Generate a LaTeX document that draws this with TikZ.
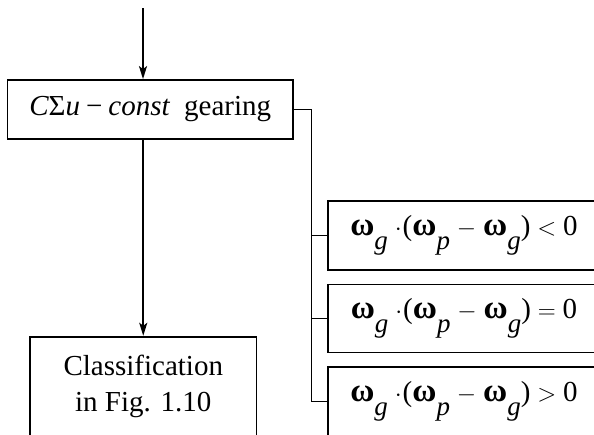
\documentclass[tikz,border=0pt]{standalone}
\usepackage{fontspec}
\setmainfont{Liberation Serif}
\usetikzlibrary{arrows.meta}
\newcommand{\om}[1]{{\fontsize{33}{33}\selectfont\textbf{ω}}\raisebox{-0.5em}{\fontsize{27}{27}\selectfont\itshape #1}}
\begin{document}
\begin{tikzpicture}[x=1pt,y=-1pt,
  every node/.style={font=\fontsize{29}{36}\selectfont},
  box/.style={draw,line width=1.8pt,inner sep=0pt,anchor=center},
  line/.style={line width=1.8pt},
  arr/.style={line width=1.8pt,-{Stealth[length=13pt,width=8pt,inset=3pt]}}]
\useasboundingbox (0,0) rectangle (594,434);
\clip (0,0) rectangle (594,434);
\coordinate (top) at (143,8);
\node[box,minimum width=285.5pt,minimum height=59pt] (gear) at (150.25,109.5)
  {{\itshape C}Σ{\itshape u}\kern6pt−\kern6pt{\itshape const}\enspace gearing};
\node[box,align=center,minimum width=226.5pt,minimum height=99.6pt] (class) at (143.25,386.5)
  {Classification\\in Fig. 1.10};
\node[box,minimum width=272pt,minimum height=69pt] (f1) at (464,235.5)
  {\om{g}$\;\cdot$\kern1pt(\om{p}$\;-\;$\om{g})$\;<\;$0};
\node[box,minimum width=272pt,minimum height=68pt] (f2) at (464,318.5)
  {\om{g}$\;\cdot$\kern1pt(\om{p}$\;-\;$\om{g})$\;=\;$0};
\node[box,minimum width=272pt,minimum height=69pt] (f3) at (464,401.5)
  {\om{g}$\;\cdot$\kern1pt(\om{p}$\;-\;$\om{g})$\;>\;$0};
\draw[arr] (top) -- (top |- gear.north);
\draw[arr] (class.north |- gear.south) -- (class.north);
\draw[line] (gear.east) -- ++(17.5,0) coordinate (bus) |- (f3.west);
\draw[line] (f1.west) -- (f1.west -| bus);
\draw[line] (f2.west) -- (f2.west -| bus);
\end{tikzpicture}
\end{document}
